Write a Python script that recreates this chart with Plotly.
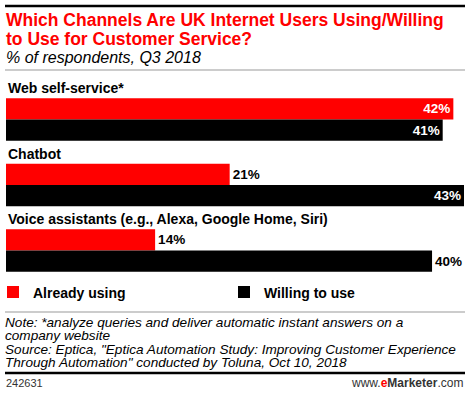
import plotly.graph_objects as go

categories = ["Web self-service*", "Chatbot", "Voice assistants (e.g., Alexa, Google Home, Siri)"]
already_using = [42, 21, 14]
willing_to_use = [41, 43, 40]
series_names = ["Already using", "Willing to use"]

W, H = 470, 396
ML, MR, MT, MB = 6, 6, 75, 116
PW, PH = W - ML - MR, H - MT - MB
FONT = "Liberation Sans"
RED = "#ff0000"


def px(x):
    return (x - ML) / PW


def py(y):
    return (H - MB - y) / PH


ypos = list(range(len(categories)))

fig = go.Figure()
fig.add_trace(go.Bar(
    y=ypos, x=already_using, orientation="h", name=series_names[0],
    marker=dict(color=RED, line=dict(width=0)),
    text=[f"{v}%" for v in already_using],
    textposition=["inside", "outside", "outside"],
    insidetextanchor="end",
    insidetextfont=dict(color="white", family=FONT, size=13.5, weight="bold"),
    outsidetextfont=dict(color="black", family=FONT, size=13.5, weight="bold"),
    cliponaxis=False, hoverinfo="skip",
))
fig.add_trace(go.Bar(
    y=ypos, x=willing_to_use, orientation="h", name=series_names[1],
    marker=dict(color="black", line=dict(width=0)),
    text=[f"{v}%" for v in willing_to_use],
    textposition=["inside", "inside", "outside"],
    insidetextanchor="end",
    insidetextfont=dict(color="white", family=FONT, size=13.5, weight="bold"),
    outsidetextfont=dict(color="black", family=FONT, size=13.5, weight="bold"),
    cliponaxis=False, hoverinfo="skip",
))

annotations = []
# category labels above each group
for i, c in enumerate(categories):
    annotations.append(dict(
        text=f"<b>{c}</b>", x=0, xref="paper", y=i - 0.477, yref="y",
        xanchor="left", yanchor="middle", showarrow=False,
        font=dict(family=FONT, size=14, color="black"),
    ))

# title and subtitle
annotations += [
    dict(text="<b>Which Channels Are UK Internet Users Using/Willing</b>",
         x=px(4), y=py(20), xref="paper", yref="paper", xanchor="left", yanchor="middle",
         showarrow=False, font=dict(family=FONT, size=17.5, color=RED)),
    dict(text="<b>to Use for Customer Service?</b>",
         x=px(4), y=py(39), xref="paper", yref="paper", xanchor="left", yanchor="middle",
         showarrow=False, font=dict(family=FONT, size=17.5, color=RED)),
    dict(text="<i>% of respondents, Q3 2018</i>",
         x=px(4), y=py(57.5), xref="paper", yref="paper", xanchor="left", yanchor="middle",
         showarrow=False, font=dict(family=FONT, size=16, color="black")),
]

notes = [
    ("<i>Note: *analyze queries and deliver automatic instant answers on a</i>", 322),
    ("<i>company website</i>", 335),
    ("<i>Source: Eptica, \"Eptica Automation Study: Improving Customer Experience</i>", 349.5),
    ("<i>Through Automation\" conducted by Toluna, Oct 10, 2018</i>", 362.5),
]
for t, yy in notes:
    annotations.append(dict(
        text=t, x=px(4), y=py(yy), xref="paper", yref="paper", xanchor="left", yanchor="middle",
        showarrow=False, borderpad=0, font=dict(family=FONT, size=13.6, color="black")))

annotations += [
    dict(text="242631", x=px(4), y=py(383), xref="paper", yref="paper",
         xanchor="left", yanchor="middle", showarrow=False,
         font=dict(family=FONT, size=11, color="#333333")),
    dict(text="www.<b><span style='color:#ff0000'>e</span>Marketer</b>.com",
         x=px(465), y=py(383), xref="paper", yref="paper",
         xanchor="right", yanchor="middle", showarrow=False,
         font=dict(family=FONT, size=12, color="#333333")),
]

shapes = [
    dict(type="line", xref="paper", yref="paper", x0=px(5), x1=px(465), y0=py(6), y1=py(6),
         line=dict(color="black", width=2.5)),
    dict(type="line", xref="paper", yref="paper", x0=px(5), x1=px(465), y0=py(70), y1=py(70),
         line=dict(color="#999999", width=1)),
    dict(type="line", xref="paper", yref="paper", x0=px(5), x1=px(465), y0=py(312), y1=py(312),
         line=dict(color="#999999", width=1)),
    dict(type="line", xref="paper", yref="paper", x0=px(5), x1=px(465), y0=py(373), y1=py(373),
         line=dict(color="black", width=2.5)),
]

fig.update_layout(
    width=W, height=H,
    margin=dict(l=ML, r=MR, t=MT, b=MB, pad=0, autoexpand=False),
    paper_bgcolor="white", plot_bgcolor="white",
    barmode="group", bargap=0.351, bargroupgap=0,
    xaxis=dict(range=[0, 43], visible=False, fixedrange=True),
    yaxis=dict(range=[2.45, -0.679], visible=False, fixedrange=True),
    showlegend=True,
    legend=dict(
        orientation="h", x=px(-7), xanchor="left", y=py(292.5), yanchor="middle",
        font=dict(family=FONT, size=14, color="black", weight="bold"),
        entrywidth=186, entrywidthmode="pixels", traceorder="normal",
        bgcolor="rgba(0,0,0,0)", borderwidth=0,
        itemclick=False, itemdoubleclick=False,
    ),
    annotations=annotations,
    shapes=shapes,
    font=dict(family=FONT),
)

fig.write_html(
    "out.html",
    config={"displayModeBar": False},
    post_script="document.body.style.margin='0';document.body.style.padding='0';",
)
